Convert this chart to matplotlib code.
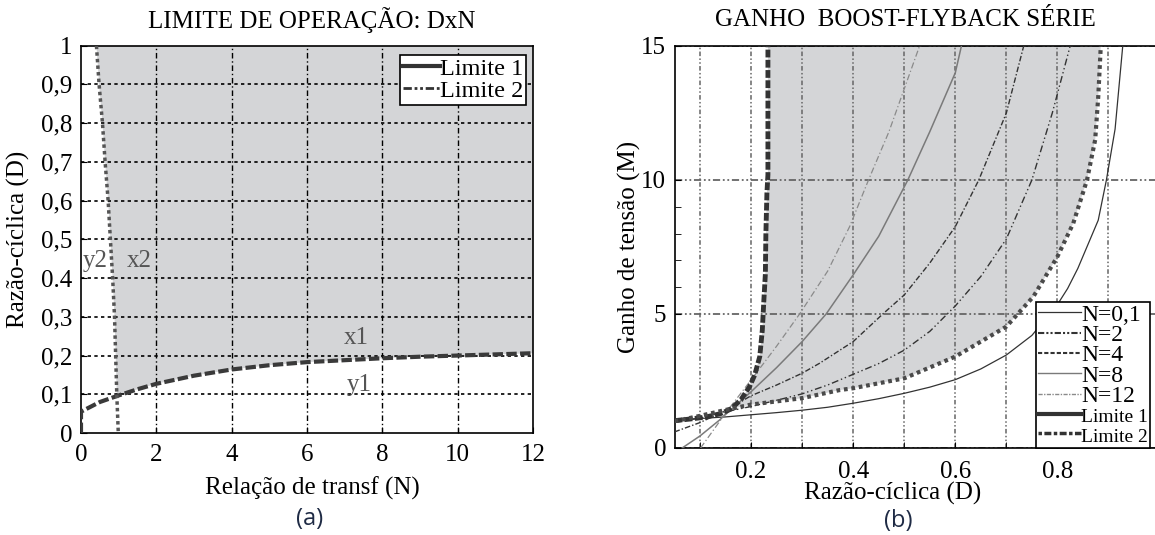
import numpy as np
import matplotlib
matplotlib.use("Agg")
import matplotlib.pyplot as plt
from matplotlib.lines import Line2D

plt.rcParams['font.family'] = ['Liberation Serif', 'DejaVu Serif']

# ---- (a) limite de operacao: D x N ----
lim1L_N = [0, 0, 0.5, 1, 1.5, 2, 3, 4, 5, 6, 7, 8, 9, 10, 11, 12]
lim1L_D = [0, 0.055, 0.08, 0.097, 0.113, 0.127, 0.148, 0.164, 0.175, 0.183,
           0.188, 0.193, 0.197, 0.200, 0.203, 0.206]
lim2L_D = [1.0, 0.9, 0.8, 0.7, 0.6, 0.5, 0.4, 0.3, 0.2, 0.1, 0.0]
lim2L_N = [0.41, 0.48, 0.57, 0.64, 0.72, 0.78, 0.84, 0.89, 0.92, 0.95, 0.99]

yticks_a = [0, 0.1, 0.2, 0.3, 0.4, 0.5, 0.6, 0.7, 0.8, 0.9, 1]
ylabels_a = ['0', '0,1', '0,2', '0,3', '0.4', '0,5', '0,6', '0,7', '0,8', '0,9', '1']
xticks_a = [0, 2, 4, 6, 8, 10, 12]

# ---- (b) ganho boost-flyback serie ----
n01_D = [0.05, 0.10, 0.15, 0.20, 0.25, 0.30, 0.35, 0.40, 0.45, 0.50, 0.55, 0.60,
         0.65, 0.70, 0.75, 0.80, 0.82, 0.84, 0.86, 0.88, 0.896, 0.913, 0.928]
n01_M = [1.05, 1.10, 1.16, 1.24, 1.32, 1.41, 1.52, 1.67, 1.84, 2.04, 2.27, 2.55,
         2.95, 3.47, 4.20, 5.35, 5.95, 6.70, 7.60, 8.50, 10.0, 11.9, 15.0]
n2_D = [0.05, 0.10, 0.15, 0.20, 0.25, 0.30, 0.35, 0.40, 0.45, 0.50, 0.55, 0.60,
        0.65, 0.70, 0.75, 0.79, 0.825]
n2_M = [0.95, 1.12, 1.35, 1.55, 1.78, 2.02, 2.35, 2.75, 3.15, 3.65, 4.35, 5.30,
        6.40, 7.80, 10.0, 12.5, 15.0]
n4_D = [0.05, 0.10, 0.15, 0.20, 0.25, 0.30, 0.334, 0.40, 0.458, 0.50, 0.55, 0.60,
        0.646, 0.70, 0.734]
n4_M = [0.60, 0.95, 1.40, 1.95, 2.35, 2.79, 3.16, 3.97, 5.00, 5.71, 6.90, 8.26,
        10.0, 12.5, 15.0]
n8_D = [0.065, 0.10, 0.138, 0.15, 0.20, 0.25, 0.30, 0.347, 0.40, 0.45, 0.507,
        0.55, 0.60, 0.612]
n8_M = [0.00, 0.45, 1.04, 1.25, 2.10, 3.00, 3.97, 5.00, 6.46, 7.90, 10.0, 11.8,
        14.0, 15.0]
n12_D = [0.101, 0.15, 0.20, 0.25, 0.295, 0.35, 0.393, 0.43, 0.47, 0.50, 0.53]
n12_M = [0.00, 1.30, 2.54, 3.80, 5.00, 6.60, 8.26, 10.0, 11.8, 13.4, 15.0]
lim1_D = [0.05, 0.08, 0.11, 0.14, 0.16, 0.18, 0.197, 0.207, 0.217, 0.222, 0.225,
          0.228, 0.229, 0.231, 0.233, 0.233]
lim1_M = [1.02, 1.08, 1.15, 1.28, 1.45, 1.80, 2.29, 2.72, 3.41, 4.40, 5.50, 6.50,
          8.00, 9.50, 10.2, 15.0]
lim2_D = [0.05, 0.10, 0.15, 0.20, 0.25, 0.30, 0.373, 0.40, 0.50, 0.60, 0.70,
          0.753, 0.80, 0.831, 0.858, 0.874, 0.880, 0.885]
lim2_M = [1.00, 1.20, 1.42, 1.62, 1.74, 1.86, 2.16, 2.23, 2.60, 3.41, 4.53, 5.65,
          7.14, 8.38, 10.0, 11.5, 13.1, 15.0]

legend_b = ['N=0,1', 'N=2', 'N=4', 'N=8', 'N=12', 'Limite 1', 'Limite 2']

FILL = '#d4d5d7'
W, H = 1155, 535
fig = plt.figure(figsize=(W / 100, H / 100), dpi=100)

# ---------------- panel (a) ----------------
ax1 = fig.add_axes([81 / W, 1 - 433 / H, (533 - 81) / W, (433 - 45.7) / H])
ax1.set_xlim(0, 12)
ax1.set_ylim(0, 1)

# shaded operating region
lim2L_N_a, lim2L_D_a = np.array(lim2L_N), np.array(lim2L_D)
lim1L_N_a, lim1L_D_a = np.array(lim1L_N), np.array(lim1L_D)
k2 = lim2L_D_a >= 0.1
k1 = lim1L_N_a >= 1
px = np.concatenate([lim2L_N_a[k2], lim1L_N_a[k1], [12]])
py = np.concatenate([lim2L_D_a[k2], lim1L_D_a[k1], [1]])
ax1.fill(px, py, color=FILL, lw=0, zorder=0)

for y in yticks_a[1:-1]:
    ax1.axhline(y, color='black', lw=1.2, ls=(0, (2, 2)), zorder=1)
for x in xticks_a[1:-1]:
    ax1.axvline(x, color='black', lw=1.0, ls=(0, (4, 2, 1, 2)), zorder=1)

ax1.plot(lim1L_N, lim1L_D, color='#3a3a3a', lw=3, ls=(0, (2.5, 0.8)), zorder=3)
ax1.plot(lim2L_N, lim2L_D, color='#555555', lw=2.5, ls=(0, (1, 0.9)), zorder=3)

ax1.set_yticks(yticks_a)
ax1.set_yticklabels(ylabels_a)
ax1.set_xticks(xticks_a)
ax1.tick_params(axis='y', direction='in', labelsize=18, length=4, pad=6)
ax1.tick_params(axis='x', direction='in', labelsize=18, length=4, pad=8)
for s in ax1.spines.values():
    s.set_linewidth(1.2)

txt = dict(fontsize=18, color='#555555', ha='center', va='center')
ax1.text(0.38, 0.445, 'y2', **txt)
ax1.text(1.55, 0.445, 'x2', **txt)
ax1.text(7.3, 0.245, 'x1', **txt)
ax1.text(7.4, 0.125, 'y1', **txt)

hA = [Line2D([], [], color='#333333', lw=3),
      Line2D([], [], color='#333333', lw=2, ls=(0, (3, 1, 1, 1, 1, 1)))]
leg1 = ax1.legend(hA, ['Limite 1', 'Limite 2'], loc='upper right',
                  bbox_to_anchor=(526 / W, 1 - 55 / H),
                  bbox_transform=fig.transFigure, borderaxespad=0,
                  fontsize=17.5, handlelength=1.5, handletextpad=0.0,
                  labelspacing=0.0, borderpad=0.12, fancybox=False,
                  framealpha=1, edgecolor='black')
leg1.get_frame().set_linewidth(1.2)
leg1.set_zorder(5)

ax1.set_ylabel('Razão-cíclica (D)', fontsize=18)
ax1.yaxis.set_label_coords(-0.112, 0.5)
ax1.set_xlabel('Relação de transf (N)', fontsize=18)
ax1.xaxis.set_label_coords(0.511, -0.112)

# ---------------- panel (b) ----------------
ax2 = fig.add_axes([674.5 / W, 1 - 448 / H, (1159.5 - 674.5) / W, (448 - 46) / H])
ax2.set_xlim(0.05, 1.0)
ax2.set_ylim(0, 15)

l1d, l1m = np.array(lim1_D), np.array(lim1_M)
l2d, l2m = np.array(lim2_D), np.array(lim2_M)
s1 = l1d >= 0.16
s2 = l2d >= 0.15
ax2.fill(np.concatenate([l1d[s1], l2d[s2][::-1]]),
         np.concatenate([l1m[s1], l2m[s2][::-1]]), color=FILL, lw=0, zorder=0)

ax2.set_xticks([0.2, 0.4, 0.6, 0.8])
ax2.set_xticks([0.1, 0.3, 0.5, 0.7, 0.9], minor=True)
ax2.set_yticks([0, 5, 10, 15])
ax2.set_yticks([6, 7, 8, 9], minor=True)
ax2.grid(True, which='both', axis='x', color='#666666', lw=1.1,
         ls=(0, (3, 1.5, 1, 1.5, 1, 1.5)), zorder=1)
ax2.grid(True, which='major', axis='y', color='#666666', lw=1.3,
         ls=(0, (4, 1.5, 1, 1.5, 1, 1.5)), zorder=1)
ax2.tick_params(which='both', axis='y', direction='in', labelsize=18, length=4, pad=6)
ax2.tick_params(which='both', axis='x', direction='in', labelsize=18, length=4, pad=9)
for s in ax2.spines.values():
    s.set_linewidth(1.2)

ax2.plot(n01_D, n01_M, color='#333333', lw=0.9, zorder=3)
ax2.plot(n2_D, n2_M, color='#333333', lw=1.0, ls=(0, (5, 2, 1, 2, 1, 2)), zorder=3)
ax2.plot(n4_D, n4_M, color='#333333', lw=1.0, ls=(0, (4, 1.5, 1, 1.5)), zorder=3)
ax2.plot(n8_D, n8_M, color='#7a7a7a', lw=1.1, zorder=3)
ax2.plot(n12_D, n12_M, color='#8a8a8a', lw=0.9, ls=(0, (5, 2, 1, 2)), zorder=3)
ax2.plot(lim1_D, lim1_M, color='#333333', lw=3.5, ls=(0, (1.6, 0.5)), zorder=4)
ax2.plot(lim2_D, lim2_M, color='#4a4a4a', lw=3.0, ls=(0, (0.9, 0.9)), zorder=4)

hB = [Line2D([], [], color='#333333', lw=0.9),
      Line2D([], [], color='#333333', lw=1.5, ls=(0, (3, 1, 1, 1, 1, 1))),
      Line2D([], [], color='#333333', lw=1.5, ls=(0, (2, 1))),
      Line2D([], [], color='#7a7a7a', lw=1.0),
      Line2D([], [], color='#8a8a8a', lw=1.0, ls=(0, (3, 1, 1, 1))),
      Line2D([], [], color='#333333', lw=3),
      Line2D([], [], color='#333333', lw=2.5, ls=(0, (1, 0.7, 2, 0.7)))]
leg2 = ax2.legend(hB, legend_b, loc='lower left',
                  bbox_to_anchor=(1036 / W, 1 - 448 / H),
                  bbox_transform=fig.transFigure, borderaxespad=0,
                  fontsize=17, handlelength=1.8, handletextpad=0.0,
                  labelspacing=-0.05, borderpad=0.1, fancybox=False,
                  framealpha=1, edgecolor='black')
for t in leg2.get_texts()[5:]:
    t.set_fontsize(14)
leg2.get_frame().set_linewidth(1.2)
leg2.set_zorder(5)

ax2.set_ylabel('Ganho de tensão (M)', fontsize=18)
ax2.yaxis.set_label_coords(-0.07, 0.5)
ax2.set_xlabel('Razão-cíclica (D)', fontsize=18)
ax2.xaxis.set_label_coords(0.45, -0.085)

# titles and panel tags
fig.text(312 / W, 1 - 20 / H, 'LIMITE DE OPERAÇÃO: DxN', fontsize=18,
         ha='center', va='center')
fig.text(905 / W, 1 - 20 / H, 'GANHO  BOOST-FLYBACK SÉRIE', fontsize=18,
         ha='center', va='center')
fig.text(310 / W, 1 - 519 / H, '(a)', fontsize=17, ha='center', va='center',
         family=['Open Sans', 'DejaVu Sans'], color='#1f2b45')
fig.text(898 / W, 1 - 521 / H, '(b)', fontsize=17, ha='center', va='center',
         family=['Open Sans', 'DejaVu Sans'], color='#1f2b45')

fig.savefig('out.png', dpi=100)
